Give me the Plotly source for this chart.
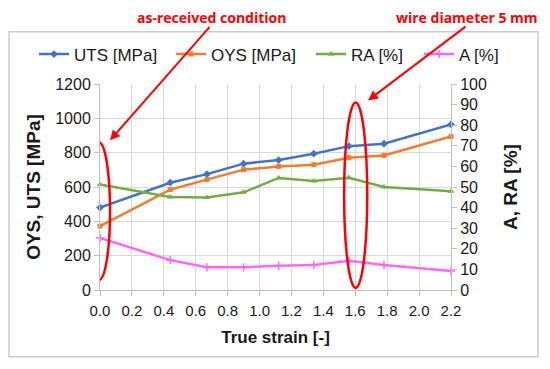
import plotly.graph_objects as go

strain = [0, 0.44, 0.67, 0.9, 1.12, 1.34, 1.56, 1.78, 2.2]
uts = [480, 625, 675, 736, 757, 794, 838, 852, 964]
oys = [372, 585, 643, 701, 720, 730, 771, 784, 894]
ra = [51.2, 45.2, 44.9, 47.4, 54.4, 52.9, 54.5, 50.0, 47.9]
a_el = [25.3, 14.5, 11.0, 11.0, 11.8, 12.1, 14.2, 12.1, 9.2]
x_ticks = [0.0, 0.2, 0.4, 0.6, 0.8, 1.0, 1.2, 1.4, 1.6, 1.8, 2.0, 2.2]

FONT = "Liberation Sans, Arial, Helvetica, sans-serif"
TXT = "#1a1a1a"
RED = "#FF0000"

# plot area geometry (pixels, page coords) used to place paper-referenced decorations
PL, PR, PT, PB = 100, 451, 83.5, 290
PW, PH = PR - PL, PB - PT


def px(x):
    return (x - PL) / PW


def py(y):
    return (PB - y) / PH


fig = go.Figure()
fig.add_trace(go.Scatter(x=strain, y=uts, name="UTS [MPa]", mode="lines+markers", legend="legend",
                         line=dict(color="#4472C4", width=2.5),
                         marker=dict(symbol="diamond", size=6), cliponaxis=False))
fig.add_trace(go.Scatter(x=strain, y=oys, name="OYS [MPa]", mode="lines+markers", legend="legend2",
                         line=dict(color="#ED7D31", width=2.5),
                         marker=dict(symbol="square", size=5), cliponaxis=False))
fig.add_trace(go.Scatter(x=strain, y=ra, name="RA [%]", mode="lines+markers", yaxis="y2",
                         legend="legend3",
                         line=dict(color="#70AD47", width=2.5),
                         marker=dict(symbol="triangle-up", size=6), cliponaxis=False))
fig.add_trace(go.Scatter(x=strain, y=a_el, name="A [%]", mode="lines+markers", yaxis="y2",
                         legend="legend4",
                         line=dict(color="#FF66FF", width=2.5),
                         marker=dict(symbol="cross-thin", size=6,
                                     line=dict(color="#FF66FF", width=1.5)), cliponaxis=False))


def leg(text_start):
    return dict(orientation="h", x=px(text_start - 39), y=py(54), xanchor="left", yanchor="middle",
                font=dict(size=17, color=TXT), itemwidth=30, bgcolor="rgba(0,0,0,0)")


# page body has an 8px margin, so the figure is 542x361 and starts at (8, 8)
OFF = 8
fig.update_layout(
    width=550 - OFF, height=369 - OFF,
    margin=dict(l=PL - OFF, r=550 - PR, t=PT - OFF, b=369 - PB),
    paper_bgcolor="white", plot_bgcolor="white",
    font=dict(family=FONT, color=TXT),
    showlegend=True,
    legend=leg(73), legend2=leg(210), legend3=leg(350), legend4=leg(458),
    xaxis=dict(range=[0, 2.2], tickvals=x_ticks, ticktext=[f"{v:.1f}" for v in x_ticks],
               showgrid=True, gridcolor="#d9d9d9", gridwidth=1,
               showline=True, linecolor="#bfbfbf", linewidth=1,
               ticks="outside", ticklen=5, tickcolor="#bfbfbf",
               tickfont=dict(size=15, color=TXT), zeroline=False, ticklabelstandoff=2,
               title=dict(text="<b>True strain [-]</b>", font=dict(size=17, color=TXT), standoff=13)),
    yaxis=dict(range=[0, 1200], dtick=200, showgrid=True, gridcolor="#d9d9d9", gridwidth=1,
               showline=True, linecolor="#bfbfbf", linewidth=1,
               ticks="outside", ticklen=5, tickcolor="#bfbfbf",
               tickfont=dict(size=16, color=TXT), zeroline=False,
               title=dict(text="<b>OYS, UTS [MPa]</b>", font=dict(size=19, color=TXT), standoff=9)),
    yaxis2=dict(range=[0, 100], dtick=10, overlaying="y", side="right", showgrid=False,
                showline=True, linecolor="#bfbfbf", linewidth=1,
                ticks="outside", ticklen=5, tickcolor="#bfbfbf",
                tickfont=dict(size=16, color=TXT), zeroline=False,
                title=dict(text="<b>A, RA [%]</b>", font=dict(size=19, color=TXT), standoff=17)),
)

# outer chart frame
fig.add_shape(type="rect", xref="paper", yref="paper",
              x0=px(9), x1=px(538), y0=py(357), y1=py(31),
              line=dict(color="#cccccc", width=1.5), layer="below")

# red ellipses
fig.add_shape(type="circle", xref="x", yref="y", x0=-0.075, x1=0.063, y0=58, y1=860,
              line=dict(color=RED, width=2.5))
fig.add_shape(type="circle", xref="x", yref="y", x0=1.53, x1=1.675, y0=12, y1=1092,
              line=dict(color=RED, width=2.5))

# red annotations with arrows
fig.add_annotation(xref="paper", yref="paper", x=px(110), y=py(140),
                   ax=211 - 110, ay=25 - 140, showarrow=True, arrowhead=2, arrowsize=1,
                   arrowwidth=2, arrowcolor=RED, text="")
fig.add_annotation(xref="paper", yref="paper", x=px(368), y=py(100),
                   ax=467 - 368, ay=25 - 100, showarrow=True, arrowhead=2, arrowsize=1,
                   arrowwidth=2, arrowcolor=RED, text="")
fig.add_annotation(xref="paper", yref="paper", x=px(211), y=py(17),
                   text="<b>as-received condition</b>", showarrow=False,
                   font=dict(family="Open Sans, sans-serif", size=14, color=RED),
                   xanchor="center", yanchor="middle")
fig.add_annotation(xref="paper", yref="paper", x=px(467), y=py(17),
                   text="<b>wire diameter 5 mm</b>", showarrow=False,
                   font=dict(family="Open Sans, sans-serif", size=14, color=RED),
                   xanchor="center", yanchor="middle")

fig.write_html("out.html")
